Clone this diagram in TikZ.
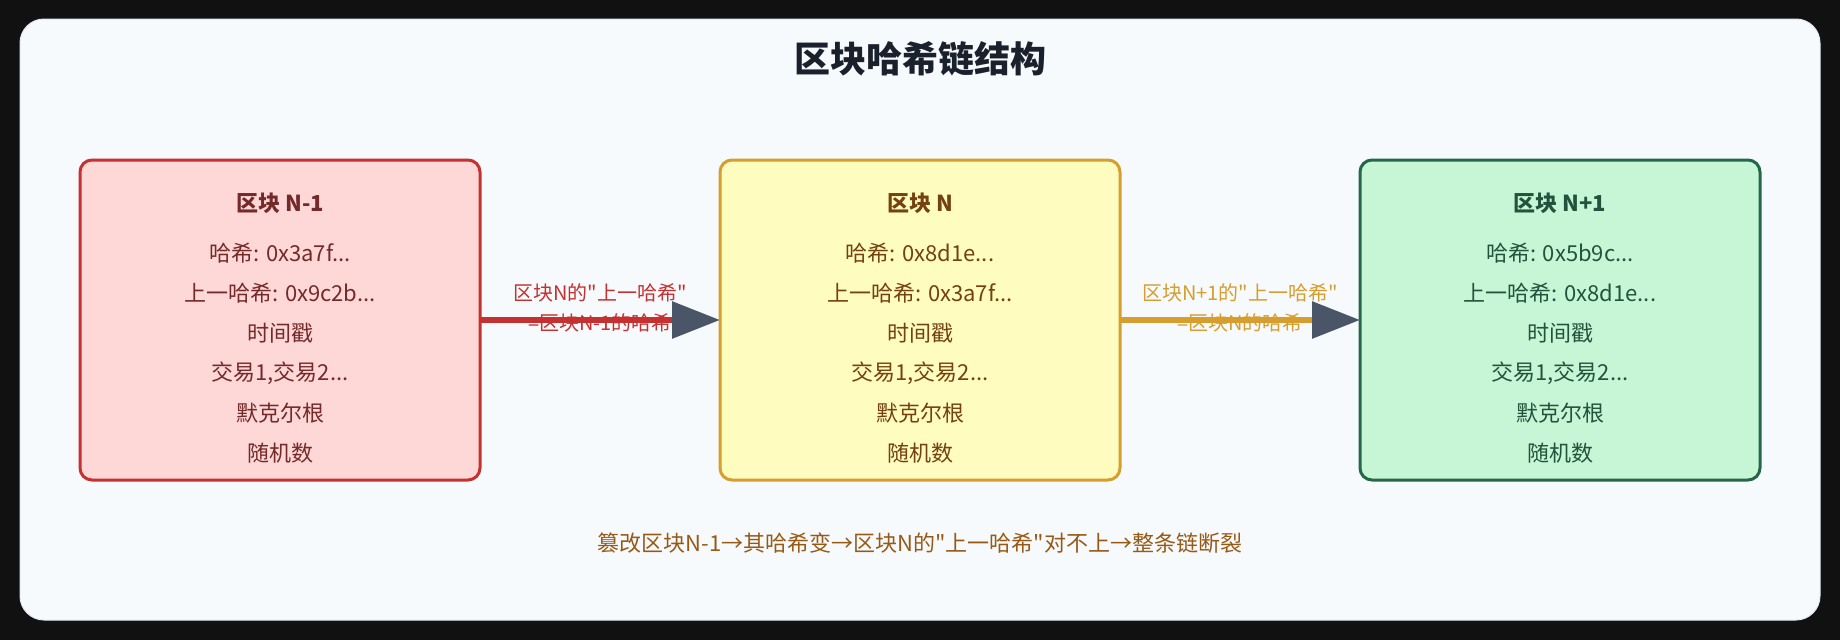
\documentclass[tikz,border=0pt]{standalone}
\usepackage{fontspec}
\setmainfont{Noto Sans CJK SC}[Ligatures=TeXOff]
\usetikzlibrary{arrows.meta}
\definecolor{bgdark}{HTML}{111111}
\definecolor{cardc}{HTML}{F7FAFC}
\definecolor{cardline}{HTML}{E2E8F0}
\definecolor{titlec}{HTML}{1A202C}
\definecolor{redfill}{HTML}{FED7D7}
\definecolor{redline}{HTML}{C53030}
\definecolor{redtext}{HTML}{742A2A}
\definecolor{yelfill}{HTML}{FEFCBF}
\definecolor{yelline}{HTML}{D69E2E}
\definecolor{yeltext}{HTML}{744210}
\definecolor{grnfill}{HTML}{C6F6D5}
\definecolor{grnline}{HTML}{276749}
\definecolor{grntext}{HTML}{22543D}
\definecolor{tipc}{HTML}{4A5568}
\definecolor{notec}{HTML}{975A16}
\tikzset{
  blockbox/.style={rectangle, rounded corners=12pt, line width=3pt, minimum width=400pt, minimum height=320pt, inner sep=0pt, outer sep=0pt},
  blocktitle/.style={font=\fontsize{22}{26}\selectfont\bfseries, inner sep=0pt},
  blockline/.style={font=\fontsize{22}{26}\selectfont, inner sep=0pt},
  linklabel/.style={font=\fontsize{20}{24}\selectfont, inner sep=0pt},
  linkarrow/.style={line width=6pt, -{Triangle[length=48pt,width=36pt,color=tipc]}},
}
\begin{document}
\begin{tikzpicture}[x=1pt, y=-1pt]
\useasboundingbox (0,0) rectangle (1840,640);
\fill[bgdark] (0,0) rectangle (1840,640);
\filldraw[fill=cardc, draw=cardline, line width=1pt, rounded corners=24pt] (20,19) rectangle (1820,620);
\node[font=\fontsize{36}{40}\selectfont\bfseries, text=titlec, inner sep=0pt] (title) at (920,59) {区块哈希链结构};

% blocks
\node[blockbox, fill=redfill, draw=redline] (blkA) at (280,320) {};
\node[blockbox, fill=yelfill, draw=yelline] (blkB) at (920,320) {};
\node[blockbox, fill=grnfill, draw=grnline] (blkC) at (1560,320) {};

\node[blocktitle, text=redtext] (blkA-t) at (280,203) {区块 N-1};
\node[blocktitle, text=yeltext] (blkB-t) at (920,203) {区块 N};
\node[blocktitle, text=grntext] (blkC-t) at (1560,203) {区块 N+1};

\foreach \bx/\col/\h/\p/\nm in {280/redtext/0x3a7f/0x9c2b/A, 920/yeltext/0x8d1e/0x3a7f/B, 1560/grntext/0x5b9c/0x8d1e/C}{
  \node[blockline, text=\col] (blk\nm-l1) at (\bx,253) {哈希: \h...};
  \node[blockline, text=\col] (blk\nm-l2) at (\bx,293) {上一哈希: \p...};
  \node[blockline, text=\col] (blk\nm-l3) at (\bx,333) {时间戳};
  \node[blockline, text=\col] (blk\nm-l4) at (\bx,373) {交易1,交易2...};
  \node[blockline, text=\col] (blk\nm-l5) at (\bx,413) {默克尔根};
  \node[blockline, text=\col] (blk\nm-l6) at (\bx,453) {随机数};
}

% link labels
\node[linklabel, text=redline] (l1a) at (600,293) {区块N的"上一哈希"};
\node[linklabel, text=redline] (l1b) at (600,323) {=区块N-1的哈希};
\node[linklabel, text=yelline] (l2a) at (1240,293) {区块N+1的"上一哈希"};
\node[linklabel, text=yelline] (l2b) at (1240,323) {=区块N的哈希};

% links
\draw[linkarrow, redline] (blkA.east) -- (blkB.west);
\draw[linkarrow, yelline] (blkB.east) -- (blkC.west);

% note
\node[font=\fontsize{22}{26}\selectfont, text=notec, inner sep=0pt] (note) at (920,543) {篡改区块N-1→其哈希变→区块N的"上一哈希"对不上→整条链断裂};
\end{tikzpicture}
\end{document}
